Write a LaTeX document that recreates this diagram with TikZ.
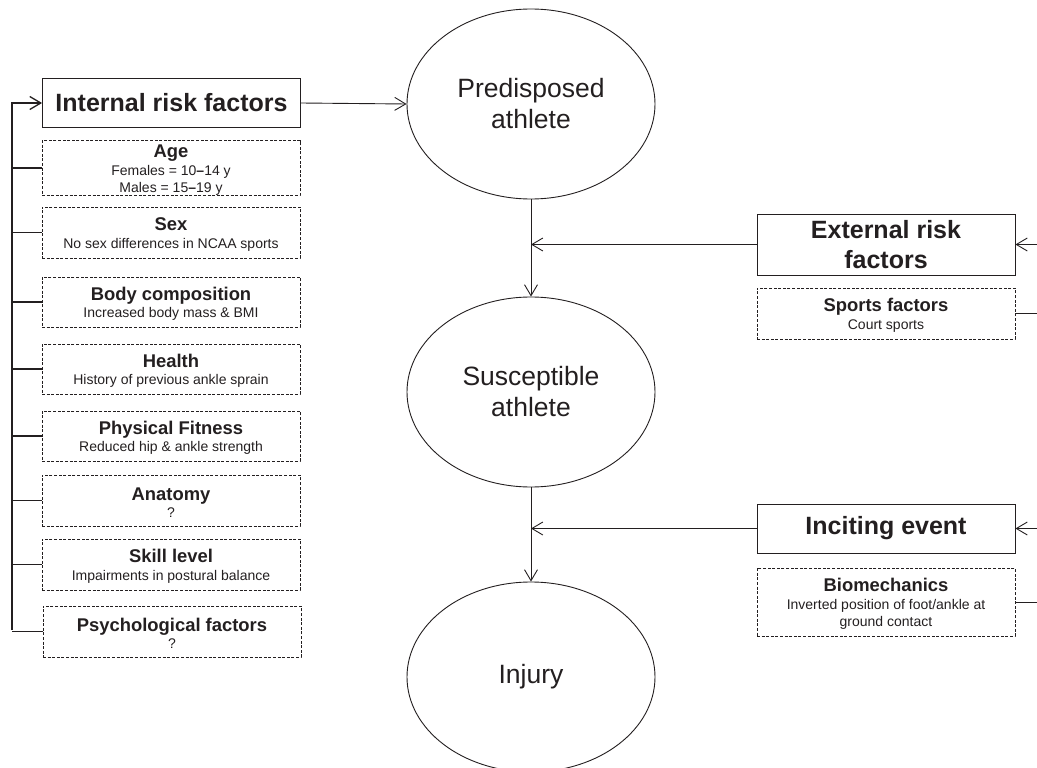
\documentclass[tikz,border=0pt]{standalone}
\usepackage{fontspec}
\setmainfont{Liberation Sans}
\usepackage{tikz}
\usetikzlibrary{arrows.meta,shapes.geometric}
\definecolor{ink}{HTML}{231F20}

\newcommand{\rfac}[2]{{\fontsize{18.4}{18}\selectfont\bfseries\rule{0pt}{17pt}#1}\\#2}

\begin{document}
\begin{tikzpicture}[x=1pt, y=-1pt, color=ink,
    >={Straight Barb[length=11pt,width=13pt]}, line width=0.9pt,
    athlete/.style={ellipse, draw, minimum width=248, minimum height=190,
        inner sep=0pt, font=\fontsize{26.5}{31}\selectfont, align=center},
    mainbox/.style={rectangle, draw, minimum width=258, inner sep=0pt,
        font=\fontsize{25}{30}\selectfont\bfseries, align=center},
    factor/.style={rectangle, draw, dash pattern=on 3pt off 1.6pt,
        line width=0.7pt, minimum width=258, minimum height=51,
        inner sep=0pt, font=\fontsize{14}{17.5}\selectfont, align=center},
    tick/.style={line width=1.8pt}]
    \useasboundingbox (0,0) rectangle (1037,768);
    \clip (0,0) rectangle (1037,768);

    % athlete states
    \node[athlete] (pred) at (531,104) {Predisposed\\athlete};
    \node[athlete] (susc) at (531,392) {Susceptible\\athlete};
    \node[athlete] (inj)  at (531,677) {Injury};

    % internal risk factors
    \node[mainbox, minimum height=49] (internal) at (171.5,103) {Internal risk factors};
    \node[factor, minimum height=52] (age) at (171,168) {\rfac{Age}{Females = 10\textbf{--}14 y\\Males = 15\textbf{--}19 y}};
    \node[factor] (sex)  at (171,232.5) {\rfac{Sex}{No sex differences in NCAA sports}};
    \node[factor, minimum height=50] (body) at (171,302) {\rfac{Body composition}{Increased body mass \& BMI}};
    \node[factor, minimum height=50] (health) at (171,369) {\rfac{Health}{History of previous ankle sprain}};
    \node[factor, minimum height=50] (fit)  at (171,436) {\rfac{Physical Fitness}{Reduced hip \& ankle strength}};
    \node[factor] (anat) at (171,500.5) {\rfac{Anatomy}{?}};
    \node[factor] (skill) at (171,564.5) {\rfac{Skill level}{Impairments in postural balance}};
    \node[factor] (psych) at (172,631.5) {\rfac{Psychological factors}{?}};
    \coordinate (lft) at (12,630);

    % external risk factors and inciting event
    \node[mainbox, minimum height=61] (external) at (886,244.5) {External risk\\factors};
    \node[factor] (sports) at (886,313.5) {\rfac{Sports factors}{Court sports}};
    \node[mainbox, minimum height=49] (incite) at (886,528.5) {Inciting event};
    \node[factor, minimum height=68] (biomech) at (886,602) {\rfac{Biomechanics}{Inverted position of foot/ankle at\\ground contact}};
    \coordinate (rgt) at (1048,0);

    \path[->] (internal.east) edge (pred.west)
              (pred.south) edge (susc.north)
              (susc.south) edge (inj.north)
              (external.west) edge (external.west -| pred.south)
              (incite.west) edge (incite.west -| susc.south);

    \draw[->, line width=1.3pt] (lft) |- (internal.west);
    \foreach \f in {age,sex,body,health,fit,anat,skill,psych}
        \draw[tick] (\f.west) -- (\f.west -| lft);

    \draw[->] (sports.east) -- (sports.east -| rgt) |- (external.east);
    \draw[->] (biomech.east) -- (biomech.east -| rgt) |- (incite.east);
\end{tikzpicture}
\end{document}
